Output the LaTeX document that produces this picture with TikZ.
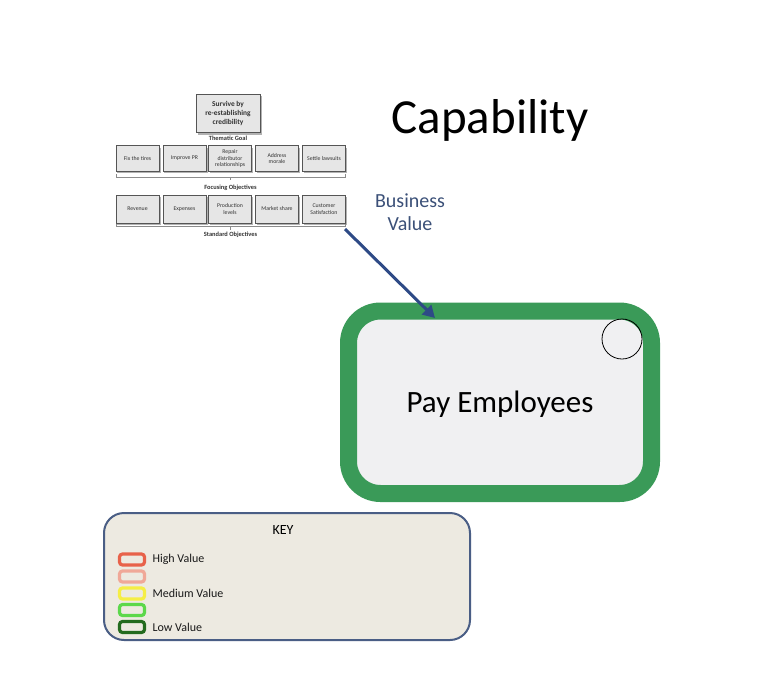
\documentclass[tikz,border=0pt]{standalone}
\usepackage{fontspec}
\setmainfont{Carlito}
\usetikzlibrary{arrows.meta}
\definecolor{capgreen}{HTML}{3A9A58}
\definecolor{capfill}{HTML}{F0F0F2}
\definecolor{bvblue}{HTML}{3B5078}
\definecolor{arrowblue}{HTML}{2E4A86}
\definecolor{keyedge}{HTML}{4A5E85}
\definecolor{keyfill}{HTML}{EDEAE1}
\definecolor{kred}{HTML}{E8624A}
\definecolor{kpink}{HTML}{F0A898}
\definecolor{kyellow}{HTML}{F5EE45}
\definecolor{klgreen}{HTML}{5CD84A}
\definecolor{kdgreen}{HTML}{236B1E}
\definecolor{objfill}{HTML}{E6E6E6}
\definecolor{objedge}{HTML}{555555}
\begin{document}
\begin{tikzpicture}[x=1pt,y=-1pt,
  objbox/.style={draw=objedge,fill=objfill,line width=0.6pt,minimum width=43pt,minimum height=26pt,
    inner sep=1pt,align=center,font=\fontsize{5.8}{6.6}\selectfont,text=black!80},
  tierlabel/.style={font=\bfseries\fontsize{6.4}{7}\selectfont,text=black!80},
  tierline/.style={draw=black!45,line width=0.5pt},
  swatch/.style={draw=#1,line width=3.2pt,rounded corners=3pt,minimum width=25pt,minimum height=11pt,inner sep=0pt},
  keylabel/.style={font=\fontsize{12}{14}\selectfont,anchor=west,text=black!90}]
\useasboundingbox (0,0) rectangle (774,691);
\fill[white] (0,0) rectangle (774,691);

% thematic goal
\fill[black!30] (197.5,95.5) rectangle (261.5,134.5);
\node[objbox,minimum width=64pt,minimum height=38pt,font=\bfseries\fontsize{7.4}{8.6}\selectfont] (goal) at (228,113.5)
  {Survive by\\re-establishing\\credibility};
\node[tierlabel] (goallbl) at (228,138) {Thematic Goal};

% focusing objectives
\foreach \x/\t/\n in {137.5/Fix the tires/f1, 184.5/Improve PR/f2, 230/{Repair\\distributor\\relationships}/f3, 277/{Address\\morale}/f4, 324/Settle lawsuits/f5}{
  \fill[black!30] (\x-20.5,147.5) rectangle (\x+23,172.5);
  \node[objbox] (\n) at (\x,158.5) {\t};
}
\draw[tierline] (116,174) -- (116,177) -- (345,177) -- (345,174);
\draw[tierline] (230.5,177) -- (230.5,180);
\node[tierlabel] (focuslbl) at (230.5,188) {Focusing Objectives};

% standard objectives
\foreach \x/\t/\n in {137.5/Revenue/s1, 184.5/Expenses/s2, 230/{Production\\levels}/s3, 277/Market share/s4, 324/{Customer\\Satisfaction}/s5}{
  \fill[black!30] (\x-20.5,196.5) rectangle (\x+23,224.5);
  \node[objbox,minimum height=28pt] (\n) at (\x,209) {\t};
}
\draw[tierline] (116,223.5) -- (116,226.5) -- (345,226.5) -- (345,223.5);
\draw[tierline] (230.5,226.5) -- (230.5,229.5);
\node[tierlabel] (stdlbl) at (230.5,235) {Standard Objectives};

% heading and arrow label
\node[font=\fontsize{49}{56}\selectfont] (title) at (490,120) {Capability};
\node[font=\fontsize{20}{23}\selectfont,text=bvblue,align=center] (bv) at (410,212) {Business\\Value};

% capability box
\node[draw=capgreen,fill=capfill,line width=17pt,rounded corners=32pt,minimum width=303pt,minimum height=182.5pt] (cap) at (500,402.25) {};
\node[font=\fontsize{31}{36}\selectfont] (capname) at (500,404) {Pay Employees};
\node[draw=black,line width=0.8pt,circle,minimum size=40pt,inner sep=0pt] (ind) at (622,339) {};
\coordinate (src) at (345,229);
\draw[arrowblue,line width=3pt,-{Triangle[length=12pt,width=13pt]}] (src) -- (435,318) coordinate (tgt);

% key
\node[draw=keyedge,fill=keyfill,line width=2pt,rounded corners=20pt,minimum width=366pt,minimum height=127pt] (key) at (287,576.5) {};
\node[font=\fontsize{14}{16}\selectfont] (keytitle) at (283,530) {KEY};
\node[swatch=kred] (k1) at (132,559.5) {};
\node[swatch=kpink] (k2) at (132,576.5) {};
\node[swatch=kyellow] (k3) at (132,593.5) {};
\node[swatch=klgreen] (k4) at (132,610) {};
\node[swatch=kdgreen] (k5) at (132,627) {};
\node[keylabel] (l1) at (149,559.5) {High Value};
\node[keylabel] (l3) at (149,593.5) {Medium Value};
\node[keylabel] (l5) at (149,627) {Low Value};
\end{tikzpicture}
\end{document}
